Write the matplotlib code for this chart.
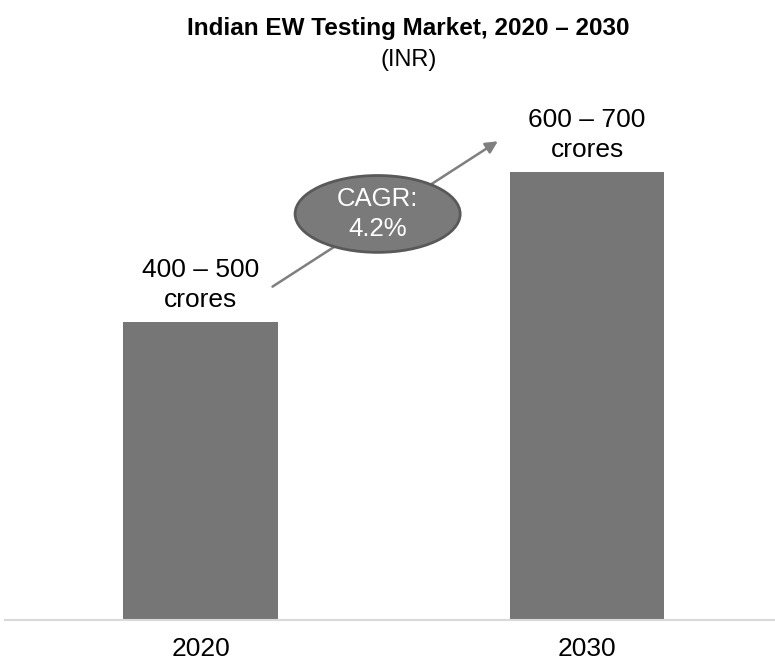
import matplotlib.pyplot as plt
from matplotlib.patches import Ellipse

plt.rcParams['font.family'] = ['Liberation Sans', 'DejaVu Sans']

years = ["2020", "2030"]
values = [450, 676]  # bar heights (midpoints)
value_labels = ["400 – 500\ncrores", "600 – 700\ncrores"]
cagr_text = "CAGR:\n4.2%"

fig = plt.figure(figsize=(7.75, 6.63), dpi=100)
ax = fig.add_axes([5 / 775, 1 - 620 / 663, 770 / 775, 520 / 663])

x = range(len(years))
ax.bar(x, values, width=0.40, color="#767676")
ax.set_xlim(-0.506, 1.486)
ax.set_ylim(0, 785)

for i, v in enumerate(values):
    ax.annotate(value_labels[i], (i, v), xytext=(0, 7), textcoords="offset points",
                ha="center", va="bottom", fontsize=19, linespacing=1.32)

# flecha de crecimiento + elipse CAGR
ax.annotate("", xy=(0.775, 725), xytext=(0.18, 501),
            arrowprops=dict(arrowstyle="-|>", color="#7f7f7f", lw=1.8, mutation_scale=18))
ax.add_patch(Ellipse((0.458, 613), 0.427, 116, facecolor="#7a7a7a",
                     edgecolor="#595959", lw=2, zorder=5))
ax.text(0.458, 613, cagr_text, ha="center", va="center", color="white",
        fontsize=18.5, zorder=6, linespacing=1.35)

ax.set_xticks(list(x))
ax.set_xticklabels(years, fontsize=19)
ax.tick_params(axis="x", length=0, pad=12)
ax.set_yticks([])
for s in ["top", "left", "right"]:
    ax.spines[s].set_visible(False)
ax.spines["bottom"].set_color("#d9d9d9")
ax.spines["bottom"].set_linewidth(1.5)

fig.text(0.527, 1 - 28 / 663, "Indian EW Testing Market, 2020 – 2030", ha="center", va="center",
         fontsize=17.5, fontweight="bold")
fig.text(0.527, 1 - 60 / 663, "(INR)", ha="center", va="center", fontsize=17)

fig.savefig("out.png", dpi=100)
